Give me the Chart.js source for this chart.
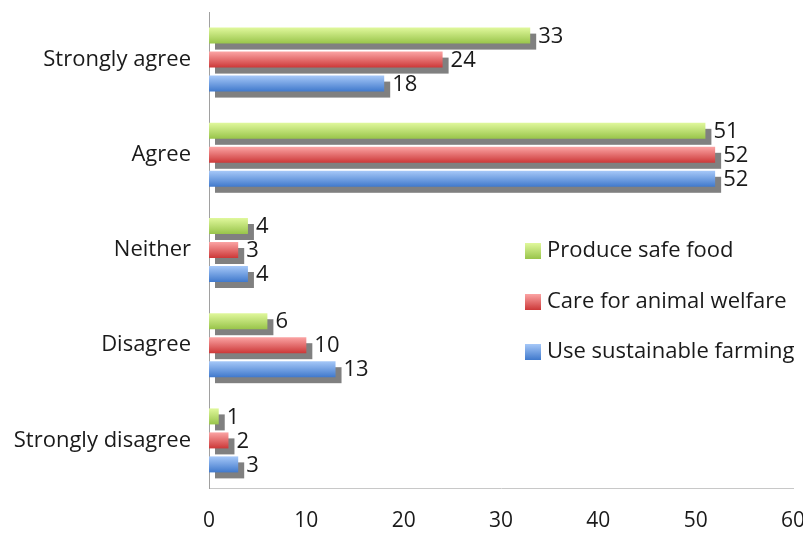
<!DOCTYPE html>
<html lang="en">
<head>
<meta charset="UTF-8" />
<title>Survey responses</title>
<script src="https://cdn.jsdelivr.net/npm/chart.js"></script>
<style>
  html, body { margin: 0; padding: 0; background: #fff; }
  .chart-container { width: 803px; height: 533px; }
</style>
</head>
<body>
<div class="chart-container"><canvas id="chart"></canvas></div>
<script>
  // answer categories (top to bottom)
  const categories = ['Strongly agree', 'Agree', 'Neither', 'Disagree', 'Strongly disagree'];

  // series values
  const safeFood = [33, 51, 4, 6, 1];
  const animalWelfare = [24, 52, 3, 10, 2];
  const sustainable = [18, 52, 4, 13, 3];

  const seriesNames = ['Produce safe food', 'Care for animal welfare', 'Use sustainable farming'];
  const xTicks = [0, 10, 20, 30, 40, 50, 60];

  // [top, bottom] colours of each bar's gradient
  const shades = [
    ['#e0f89c', '#98c44a'],
    ['#fba4a4', '#cc3838'],
    ['#a6c8f8', '#4079cc']
  ];

  const FONT = '"Open Sans", sans-serif';
  const SIZE = 22;

  // gradient fill + gray drop shadow behind every bar
  const shadedBars = {
    id: 'shadedBars',
    beforeDatasetsDraw(chart) {
      const ctx = chart.ctx;
      ctx.save();
      ctx.fillStyle = '#808080';
      chart.data.datasets.forEach((ds, i) => {
        chart.getDatasetMeta(i).data.forEach(bar => {
          const h = bar.height;
          ctx.fillRect(bar.base + 6, bar.y - h / 2 + 6, bar.x - bar.base, h);
          const g = ctx.createLinearGradient(0, bar.y - h / 2, 0, bar.y + h / 2);
          g.addColorStop(0, shades[i][0]);
          g.addColorStop(1, shades[i][1]);
          bar.options.backgroundColor = g;
        });
      });
      ctx.restore();
    },
    afterDatasetsDraw(chart) {
      // value labels after each bar
      const ctx = chart.ctx;
      ctx.save();
      ctx.font = SIZE + 'px ' + FONT;
      ctx.fillStyle = '#1a1a1a';
      ctx.textBaseline = 'middle';
      ctx.textAlign = 'left';
      chart.data.datasets.forEach((ds, i) => {
        chart.getDatasetMeta(i).data.forEach((bar, j) => {
          ctx.fillText(String(ds.data[j]), bar.x + 8, bar.y + 1);
        });
      });
      ctx.restore();
    }
  };

  // legend drawn inside the plot, right half
  const innerLegend = {
    id: 'innerLegend',
    afterDraw(chart) {
      const ctx = chart.ctx;
      const x = 525;
      const ys = [251, 302, 352];
      ctx.save();
      ctx.font = SIZE + 'px ' + FONT;
      ctx.textBaseline = 'middle';
      seriesNames.forEach((name, i) => {
        const g = ctx.createLinearGradient(0, ys[i] - 8, 0, ys[i] + 8);
        g.addColorStop(0, shades[i][0]);
        g.addColorStop(1, shades[i][1]);
        ctx.fillStyle = g;
        ctx.fillRect(x, ys[i] - 8, 16, 16);
        ctx.fillStyle = '#1a1a1a';
        ctx.fillText(name, x + 22, ys[i]);
      });
      ctx.restore();
    }
  };

  const flat = i => () => shades[i][1];

  new Chart(document.getElementById('chart').getContext('2d'), {
    type: 'bar',
    data: {
      labels: categories,
      datasets: [
        { label: seriesNames[0], data: safeFood, backgroundColor: flat(0) },
        { label: seriesNames[1], data: animalWelfare, backgroundColor: flat(1) },
        { label: seriesNames[2], data: sustainable, backgroundColor: flat(2) }
      ]
    },
    options: {
      indexAxis: 'y',
      responsive: true,
      maintainAspectRatio: false,
      animation: false,
      categoryPercentage: 0.756,
      barPercentage: 0.667,
      layout: { padding: { top: 12, right: 10, left: 0, bottom: 0 } },
      plugins: { legend: { display: false }, tooltip: { enabled: false } },
      scales: {
        x: {
          min: 0,
          max: 60,
          afterBuildTicks: s => { s.ticks = xTicks.map(v => ({ value: v })); },
          afterFit: s => { s.height = 45; s.paddingLeft = 0; s.paddingRight = 0; },
          grid: { display: false, drawTicks: false },
          border: { color: '#c8c8c8', width: 1 },
          ticks: { color: '#1a1a1a', font: { family: FONT, size: 21 }, padding: 20 }
        },
        y: {
          afterFit: s => { s.width = 209; s.paddingTop = 0; s.paddingBottom = 0; },
          grid: { display: false, drawTicks: false },
          border: { color: '#a0a0a0', width: 1 },
          ticks: { color: '#1a1a1a', font: { family: FONT, size: SIZE }, padding: 18 }
        }
      }
    },
    plugins: [shadedBars, innerLegend]
  });
</script>
</body>
</html>
